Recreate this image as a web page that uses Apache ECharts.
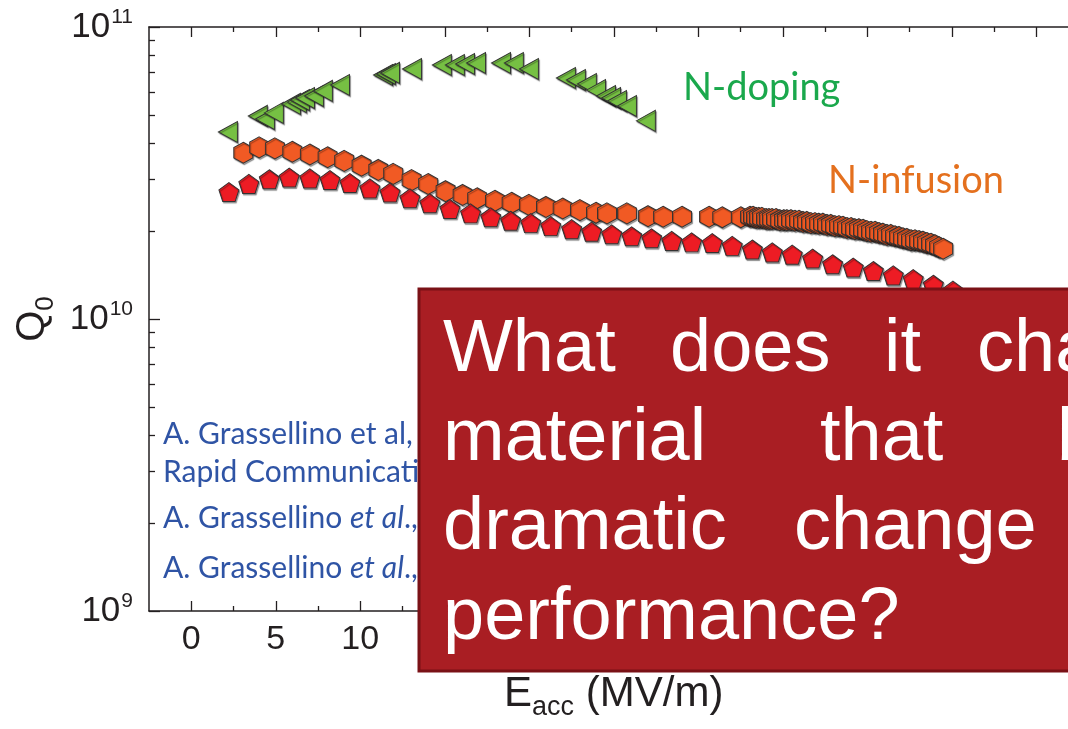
<!DOCTYPE html>
<html>
<head>
<meta charset="utf-8">
<script src="https://cdn.jsdelivr.net/npm/echarts@6/dist/echarts.min.js"></script>
<style>
  html, body { margin: 0; padding: 0; background: #fff; overflow: hidden; }
  #chart { width: 1100px; height: 729px; }
</style>
</head>
<body>
<div id="chart"></div>
<script>
// N-doping (green triangles), Q0 in units of 1e10
const triE = [2.17, 3.94, 4.36, 4.89, 5.90, 6.25, 6.43, 6.73, 7.26, 7.79, 8.80, 11.35, 11.52, 11.76, 13.06,
  14.83, 15.60, 16.20, 16.85, 18.33, 19.09, 19.98, 22.17, 22.76, 23.41, 23.95, 24.54, 24.84, 25.19, 25.78, 26.90];
const triQ = [4.37, 4.96, 4.84, 5.08, 5.45, 5.53, 5.62, 5.71, 5.80, 6.04, 6.33, 6.85, 6.90, 6.96, 7.18,
  7.41, 7.41, 7.47, 7.53, 7.53, 7.53, 7.18, 6.69, 6.58, 6.38, 6.08, 5.80, 5.71, 5.58, 5.36, 4.77];

// N-infusion (orange hexagons)
const hexE = [3.08, 4.02, 4.95, 5.98, 7.02, 8.07, 9.05, 10.08, 11.07, 11.95, 13.04, 14.02, 15.05, 16.06, 16.92,
  17.97, 18.96, 19.98, 20.99, 21.98, 23.00, 23.95, 24.60, 25.78, 27.03, 27.92, 29.04, 30.64, 31.42, 32.52,
  33.06, 33.24, 33.42, 33.59, 33.77, 34.01, 34.18, 34.36, 34.60, 34.83, 35.07, 35.25, 35.49, 35.72, 35.96,
  36.20, 36.43, 36.67, 36.91, 37.14, 37.38, 37.62, 37.85, 38.09, 38.33, 38.56, 38.80, 39.04, 39.27, 39.51,
  39.75, 39.98, 40.22, 40.46, 40.69, 40.93, 41.17, 41.40, 41.64, 41.88, 42.11, 42.35, 42.59, 42.82, 43.06,
  43.30, 43.53, 43.77, 44.01, 44.25, 44.49];
const hexQ = [3.71, 3.87, 3.84, 3.74, 3.66, 3.58, 3.48, 3.35, 3.24, 3.14, 2.99, 2.90, 2.74, 2.66, 2.59,
  2.54, 2.50, 2.46, 2.42, 2.39, 2.36, 2.31, 2.30, 2.30, 2.25, 2.24, 2.24, 2.24, 2.23, 2.23,
  2.24, 2.24, 2.22, 2.22, 2.22, 2.20, 2.20, 2.20, 2.20, 2.18, 2.18, 2.18, 2.18, 2.17, 2.17,
  2.15, 2.15, 2.13, 2.13, 2.12, 2.12, 2.10, 2.10, 2.08, 2.08, 2.07, 2.05, 2.05, 2.03, 2.03,
  2.02, 2.00, 1.99, 1.99, 1.97, 1.96, 1.94, 1.94, 1.92, 1.91, 1.89, 1.88, 1.86, 1.86, 1.85,
  1.84, 1.82, 1.81, 1.79, 1.76, 1.74];

// red pentagons
const pentE = [2.23, 3.41, 4.62, 5.80, 7.02, 8.21, 9.39, 10.57, 11.76, 12.94, 14.12, 15.31, 16.53, 17.72, 18.90,
  20.09, 21.27, 22.51, 23.69, 24.88, 26.06, 27.24, 28.43, 29.61, 30.83, 32.01, 33.20, 34.38, 35.56, 36.77,
  37.95, 39.17, 40.36, 41.54, 42.72, 43.91, 45.07];
const pentQ = [2.72, 2.90, 3.01, 3.05, 3.03, 2.99, 2.92, 2.80, 2.71, 2.59, 2.49, 2.38, 2.30, 2.23, 2.17,
  2.13, 2.08, 2.03, 1.99, 1.95, 1.92, 1.89, 1.85, 1.83, 1.82, 1.78, 1.73, 1.69, 1.66, 1.61,
  1.54, 1.50, 1.46, 1.41, 1.37, 1.31, 1.25];

// ticks
const xMajor = [0, 5, 10, 15, 20, 25, 30, 35, 40, 45, 50];
const xMinor = [2.5, 7.5, 12.5, 17.5, 22.5, 27.5, 32.5, 37.5, 42.5, 47.5];
const yMajor = [1e9, 1e10, 1e11];
const yMinor = [2e9, 3e9, 4e9, 5e9, 6e9, 7e9, 8e9, 9e9, 2e10, 3e10, 4e10, 5e10, 6e10, 7e10, 8e10, 9e10];

const ink = '#231f20';
const axisFont = 'Liberation Sans';

function toPoints(xs, qs) {
  return xs.map((e, i) => [e, qs[i] * 1e10]);
}

// 坐标轴：主刻度 / 次刻度 分开画
function xAxisDef(position, ticks, len, showLine, showLabel) {
  return {
    type: 'value', position: position, min: -2.5, max: 52.5,
    axisLine: { show: showLine, onZero: false, lineStyle: { color: ink, width: 1.5 } },
    axisTick: { show: true, inside: true, length: len, customValues: ticks, lineStyle: { color: ink, width: 1.3 } },
    axisLabel: showLabel ? { customValues: ticks, margin: 12, fontSize: 34, color: ink, fontFamily: axisFont }
      : { show: false },
    splitLine: { show: false }
  };
}

function yAxisDef(ticks, len, showLine, showLabel) {
  return {
    type: 'log', logBase: 10, position: 'left', min: 1e9, max: 1e11,
    axisLine: { show: showLine, onZero: false, lineStyle: { color: ink, width: 1.5 } },
    axisTick: { show: true, inside: true, length: len, customValues: ticks, lineStyle: { color: ink, width: 1.3 } },
    axisLabel: showLabel ? {
      customValues: ticks, margin: 16, color: ink, fontFamily: axisFont,
      formatter: function (v) { return '{b|10}{sup|' + Math.round(Math.log10(v)) + '}'; },
      rich: {
        b: { fontSize: 35, lineHeight: 40, verticalAlign: 'middle', color: ink, fontFamily: axisFont },
        sup: { fontSize: 21, lineHeight: 21, verticalAlign: 'top', color: ink, fontFamily: axisFont, padding: [0, 0, 0, 1] }
      }
    } : { show: false },
    splitLine: { show: false }
  };
}

const xMain = xAxisDef('bottom', xMajor, 10, true, true);
xMain.name = '{e|E}{s|acc}{n| (MV/m)}';
xMain.nameLocation = 'middle';
xMain.nameGap = 62;
xMain.nameTextStyle = {
  rich: {
    e: { fontSize: 42, lineHeight: 48, verticalAlign: 'top', color: ink, fontFamily: axisFont },
    s: { fontSize: 27, lineHeight: 27, verticalAlign: 'bottom', padding: [27, 0, 0, 0], color: ink, fontFamily: axisFont },
    n: { fontSize: 42, lineHeight: 48, verticalAlign: 'top', color: ink, fontFamily: axisFont }
  }
};

const yMain = yAxisDef(yMajor, 11, true, true);
yMain.name = '{q|Q}{s|0}';
yMain.nameLocation = 'middle';
yMain.nameRotate = 90;
yMain.nameGap = 87;
yMain.nameTextStyle = {
  rich: {
    q: { fontSize: 40, lineHeight: 46, verticalAlign: 'top', color: ink, fontFamily: axisFont },
    s: { fontSize: 26, lineHeight: 26, verticalAlign: 'bottom', padding: [30, 0, 0, 0], color: ink, fontFamily: axisFont }
  }
};

const hexPath = 'path://M0,-1L0.866,-0.5L0.866,0.5L0,1L-0.866,0.5L-0.866,-0.5Z';
const pentPath = 'path://M0,-1L0.951,-0.309L0.588,0.809L-0.588,0.809L-0.951,-0.309Z';
const triPath = 'path://M0,1L2,0L2,2Z';

function markerStyle(color) {
  return {
    color: color, borderColor: '#333', borderWidth: 1, opacity: 1,
    shadowColor: 'rgba(0,0,0,0.35)', shadowOffsetX: 1, shadowOffsetY: 1.5, shadowBlur: 1
  };
}

const blue = '#2f54a5';
const refFont = 'Lato';
const refSize = '30px ';
const boxFont = '74px "Liberation Sans"';

// 红色方框中的文字（两端对齐，逐词摆放）
const boxWords = [
  ['What', 443, 351], ['does', 670, 351], ['it', 884, 351], ['change', 977, 351],
  ['material', 443, 440], ['that', 820, 440], ['brings', 1057, 440],
  ['dramatic', 443, 529], ['change', 794, 529],
  ['performance?', 443, 619]
];

const chart = echarts.init(document.getElementById('chart'));

chart.setOption({
  animation: false,
  backgroundColor: '#fff',
  grid: { left: 149, right: 21.5, top: 27, bottom: 118, outerBoundsMode: 'none', containLabel: false },
  xAxis: [
    xMain,
    xAxisDef('bottom', xMinor, 5, false, false),
    xAxisDef('top', xMajor, 10, true, false),
    xAxisDef('top', xMinor, 5, false, false)
  ],
  yAxis: [
    yMain,
    yAxisDef(yMinor, 6, false, false)
  ],
  series: [
    {
      name: 'N-infusion', type: 'scatter', symbol: hexPath, symbolSize: [19, 21],
      itemStyle: markerStyle('#f15a24'), data: toPoints(hexE, hexQ)
    },
    {
      name: 'baseline', type: 'scatter', symbol: pentPath, symbolSize: [20, 19],
      itemStyle: markerStyle('#ed1c24'), data: toPoints(pentE, pentQ)
    },
    {
      name: 'N-doping', type: 'scatter', symbol: triPath, symbolSize: [19, 21],
      itemStyle: markerStyle('#76c043'), data: toPoints(triE, triQ)
    }
  ],
  graphic: [
    { type: 'text', x: 683, y: 88, z: 10, style: { text: 'N-doping', font: '38px ' + refFont, fill: '#1aa84c', verticalAlign: 'middle' } },
    { type: 'text', x: 828, y: 181, z: 10, style: { text: 'N-infusion', font: '38px ' + refFont, fill: '#e4701e', verticalAlign: 'middle' } },
    { type: 'text', x: 163, y: 434, z: 10, style: { text: 'A. Grassellino et al,', font: refSize + refFont, fill: blue, verticalAlign: 'middle' } },
    { type: 'text', x: 163, y: 472, z: 10, style: { text: 'Rapid Communication', font: refSize + refFont, fill: blue, verticalAlign: 'middle' } },
    {
      type: 'text', x: 163, y: 518, z: 10,
      style: {
        text: '{r|A. Grassellino }{i|et al}{r|.,}', verticalAlign: 'middle',
        rich: { r: { font: refSize + refFont, fill: blue }, i: { font: 'italic ' + refSize + refFont, fill: blue } }
      }
    },
    {
      type: 'text', x: 163, y: 568, z: 10,
      style: {
        text: '{r|A. Grassellino }{i|et al}{r|.,}', verticalAlign: 'middle',
        rich: { r: { font: refSize + refFont, fill: blue }, i: { font: 'italic ' + refSize + refFont, fill: blue } }
      }
    },
    {
      type: 'rect', z: 100,
      shape: { x: 419, y: 289, width: 700, height: 382 },
      style: { fill: '#a91e23', stroke: '#7a1116', lineWidth: 3 }
    }
  ].concat(boxWords.map(w => ({
    type: 'text', x: w[1], y: w[2], z: 101,
    style: { text: w[0], font: boxFont, fill: '#fff', verticalAlign: 'middle' }
  })))
});

window.addEventListener('resize', function () {
  chart.resize();
});
</script>
</body>
</html>
